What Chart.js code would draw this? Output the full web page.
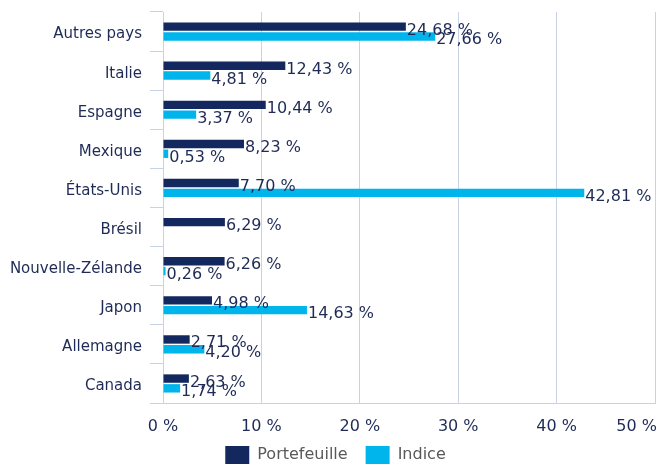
<!DOCTYPE html>
<html>
<head>
<meta charset="utf-8">
<script src="https://cdn.jsdelivr.net/npm/chart.js@4/dist/chart.umd.min.js"></script>
<style>
    html, body { margin: 0; padding: 0; background: #fff; }
    #wrap { width: 658px; height: 466px; }
</style>
</head>
<body>
<div id="wrap"><canvas id="chart"></canvas></div>
<script>
const pays = ["Autres pays", "Italie", "Espagne", "Mexique", "États-Unis", "Brésil", "Nouvelle-Zélande", "Japon", "Allemagne", "Canada"]
const portefeuille = [24.68, 12.43, 10.44, 8.23, 7.70, 6.29, 6.26, 4.98, 2.71, 2.63]
const indice = [27.66, 4.81, 3.37, 0.53, 42.81, null, 0.26, 14.63, 4.20, 1.74]
const xTicks = ["0 %", "10 %", "20 %", "30 %", "40 %", "50 %"]

const navy = "#13285f"
const cyan = "#00b4ec"
const textColor = "#1f2b56"
const gridColor = "#c8d3e5"
const font = "DejaVu Sans"

const fmt = (v) => v.toFixed(2).replace(".", ",") + " %"

// valeurs au bout des barres
const valueLabels = {
    id: "valueLabels",
    afterDatasetsDraw(chart) {
        const ctx = chart.ctx
        ctx.save()
        ctx.font = "16px '" + font + "'"
        ctx.fillStyle = textColor
        ctx.textAlign = "left"
        ctx.textBaseline = "alphabetic"
        chart.data.datasets.forEach((ds, i) => {
            chart.getDatasetMeta(i).data.forEach((bar, j) => {
                const v = ds.data[j]
                if (v == null) return
                ctx.fillText(fmt(v), bar.x + 1, bar.y + 8)
            })
        })
        ctx.restore()
    },
}

// libellés de l'axe x, le dernier reste dans le canvas
const xLabels = {
    id: "xLabels",
    afterDraw(chart) {
        const ctx = chart.ctx
        const scale = chart.scales.x
        ctx.save()
        ctx.font = "16px '" + font + "'"
        ctx.fillStyle = textColor
        ctx.textBaseline = "alphabetic"
        scale.ticks.forEach((t, i) => {
            const label = xTicks[i]
            const w = ctx.measureText(label).width
            const x = Math.min(scale.getPixelForValue(t.value) - w / 2, chart.width - 1 - w)
            ctx.fillText(label, x, scale.top + 28)
        })
        ctx.restore()
    },
}

const shiftLegend = {
    id: "shiftLegend",
    afterLayout(chart) {
        chart.legend.left += 8
        chart.legend.right += 8
    },
}

new Chart(document.getElementById("chart"), {
    type: "bar",
    data: {
        labels: pays,
        datasets: [
            { label: "Portefeuille", data: portefeuille, backgroundColor: navy },
            { label: "Indice", data: indice, backgroundColor: cyan },
        ],
    },
    options: {
        indexAxis: "y",
        responsive: true,
        maintainAspectRatio: false,
        animation: false,
        datasets: {
            bar: { categoryPercentage: 0.5, barPercentage: 0.86 },
        },
        layout: { padding: { top: 12, right: 3, left: 0, bottom: -8 } },
        plugins: {
            tooltip: { enabled: false },
            legend: {
                position: "bottom",
                labels: {
                    boxWidth: 24,
                    boxHeight: 18,
                    padding: 18,
                    color: "#595959",
                    font: { family: font, size: 16 },
                },
            },
        },
        scales: {
            x: {
                min: 0,
                max: 50,
                ticks: {
                    stepSize: 10,
                    display: false,
                    callback: (v, i) => xTicks[i],
                },
                grid: { color: gridColor, drawTicks: false },
                border: { color: gridColor },
                afterFit: (scale) => { scale.height = 25 },
            },
            y: {
                ticks: {
                    color: textColor,
                    padding: 8,
                    labelOffset: 3,
                    autoSkip: false,
                    font: { family: font, size: 15 },
                },
                grid: { color: gridColor, drawOnChartArea: false, tickLength: 13 },
                border: { color: gridColor },
                afterFit: (scale) => {
                    scale.width = 163
                    scale.paddingTop = 0
                    scale.paddingBottom = 0
                },
            },
        },
    },
    plugins: [valueLabels, xLabels, shiftLegend],
})
</script>
</body>
</html>
